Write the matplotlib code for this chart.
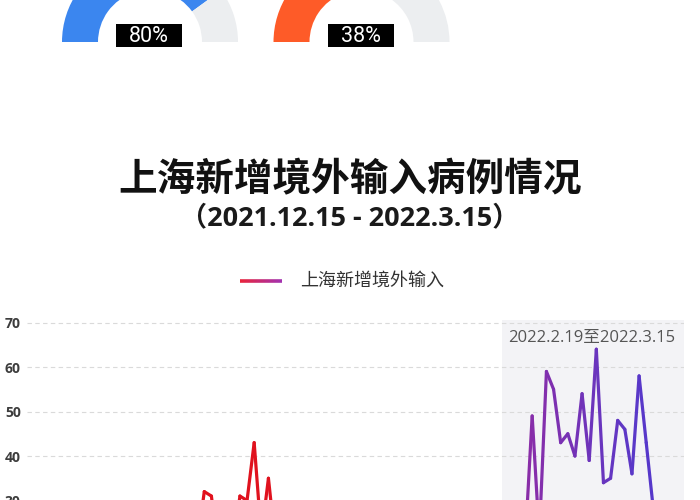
import numpy as np
import pandas as pd
import matplotlib
matplotlib.use("Agg")
import matplotlib.pyplot as plt
from matplotlib.collections import LineCollection
from matplotlib.colors import LinearSegmentedColormap
from matplotlib.patches import Wedge, Rectangle

plt.rcParams['font.family'] = ['Noto Sans CJK SC', 'DejaVu Sans']
latin = ['Open Sans', 'Noto Sans CJK SC', 'DejaVu Sans']

# gauges at the top (cut off in the screenshot)
gauge_pcts = [80, 38]
gauge_colors = ['#3b86ef', '#fe5b28']

# daily imported cases, 2021.12.15 - 2022.3.15
dates = pd.date_range('2021-12-15', '2022-03-15')
cases = [12, 9, 15, 11, 18, 14, 10, 16, 13, 20, 17, 12, 19, 15, 22, 18, 14, 21, 16, 24,
         19, 17, 23, 20, 32, 31, 18, 22, 19, 31, 30, 43, 22, 35, 20,
         25, 17, 21, 14, 19, 23, 16, 12, 18, 22, 15, 20, 13, 17, 24, 19, 11, 16, 21, 14,
         18, 26, 15, 20, 23, 17, 22, 19, 25, 16, 21, 27, 18, 24,
         20, 49, 22, 59, 55, 43, 45, 40, 54, 39, 64, 34, 35, 48, 46, 36, 58, 43, 28, 24, 19, 22]
yticks = [0, 10, 20, 30, 40, 50, 60, 70]
series_name = '上海新增境外输入'
span_start, span_end = '2022-02-19', '2022-03-15'
span_label = '2022.2.19至2022.3.15'

cmap = LinearSegmentedColormap.from_list('rp', [
    (0.0, '#e3101b'), (0.38, '#e0121e'), (0.62, '#a6289a'),
    (0.77, '#8a2da8'), (0.94, '#5a38c8'), (1.0, '#5035cc')])

fig = plt.figure(figsize=(7, 5), dpi=100)
fig.patch.set_facecolor('white')

# pixel overlay for the header part
top = fig.add_axes([0, 0, 1, 1])
top.set_xlim(0, 700)
top.set_ylim(500, 0)
top.axis('off')

for k, (p, c) in enumerate(zip(gauge_pcts, gauge_colors)):
    cx = 150 + k * 211.5
    cy = 42
    split = 180 + 180 * p / 100
    top.add_patch(Wedge((cx, cy), 88, 180, split, width=36, color=c, lw=0))
    top.add_patch(Wedge((cx, cy), 88, split, 360, width=36, color='#eceef0', lw=0))
    top.add_patch(Rectangle((cx - 34, 24), 66, 23, color='black', lw=0))
    top.text(cx - 1, 36, f'{p}%', color='white', fontsize=15.5, ha='center', va='center',
             family=['Roboto', 'DejaVu Sans'])

top.text(350, 180, '上海新增境外输入病例情况', fontsize=27.8, fontweight='bold',
         ha='center', va='center', color='#111111')
top.text(350, 218, '（2021.12.15 - 2022.3.15）', fontsize=19.5, fontweight='bold',
         ha='center', va='center', color='#1a1a1a', family=latin)

# legend entry with gradient line
lx = np.linspace(240, 282, 30)
lseg = [[(lx[i], 281), (lx[i + 1], 281)] for i in range(len(lx) - 1)]
lcol = LinearSegmentedColormap.from_list('lg', ['#e8243c', '#a332b0'])(np.linspace(0, 1, len(lseg)))
top.add_collection(LineCollection(lseg, colors=lcol, linewidths=2.6, capstyle='butt'))
top.text(300, 281, series_name, fontsize=13, ha='left', va='center', color='#333333')

# line chart, extends past the bottom of the screenshot
ax = fig.add_axes([27 / 700, -0.268, 657 / 700, 0.6274])
ax.set_facecolor('none')
x = np.arange(len(dates))
y = np.array(cases, dtype=float)
ax.set_xlim(-0.87, 91.3)
ax.set_ylim(0, 70.5)

i0 = dates.get_loc(pd.Timestamp(span_start))
i1 = dates.get_loc(pd.Timestamp(span_end))
ax.axvspan(i0 - 0.3, 91.3, color='#f3f3f6', lw=0, zorder=0)
ax.text((i0 + i1) / 2 + 0.4, 66.5, span_label, fontsize=12, color='#555555',
        ha='center', va='center', zorder=3, family=latin)

for t in yticks:
    ax.axhline(t, color='#dadada', lw=0.8, ls=(0, (4, 3)), zorder=1)

pts = np.column_stack([x, y])
segs = np.stack([pts[:-1], pts[1:]], axis=1)
mid = (x[:-1] + x[1:]) / 2 / x[-1]
lc = LineCollection(segs, colors=cmap(mid), linewidths=2.3, capstyle='round',
                    joinstyle='round', zorder=4)
ax.add_collection(lc)

ax.set_yticks(yticks)
ax.set_yticklabels([str(t) for t in yticks], fontsize=10, color='#3d3d3d',
                   family=latin, fontweight='bold')
ax.tick_params(axis='y', length=0, pad=4.5)
ax.set_xticks([])
for s in ax.spines.values():
    s.set_visible(False)

fig.savefig('out.png', dpi=100)
